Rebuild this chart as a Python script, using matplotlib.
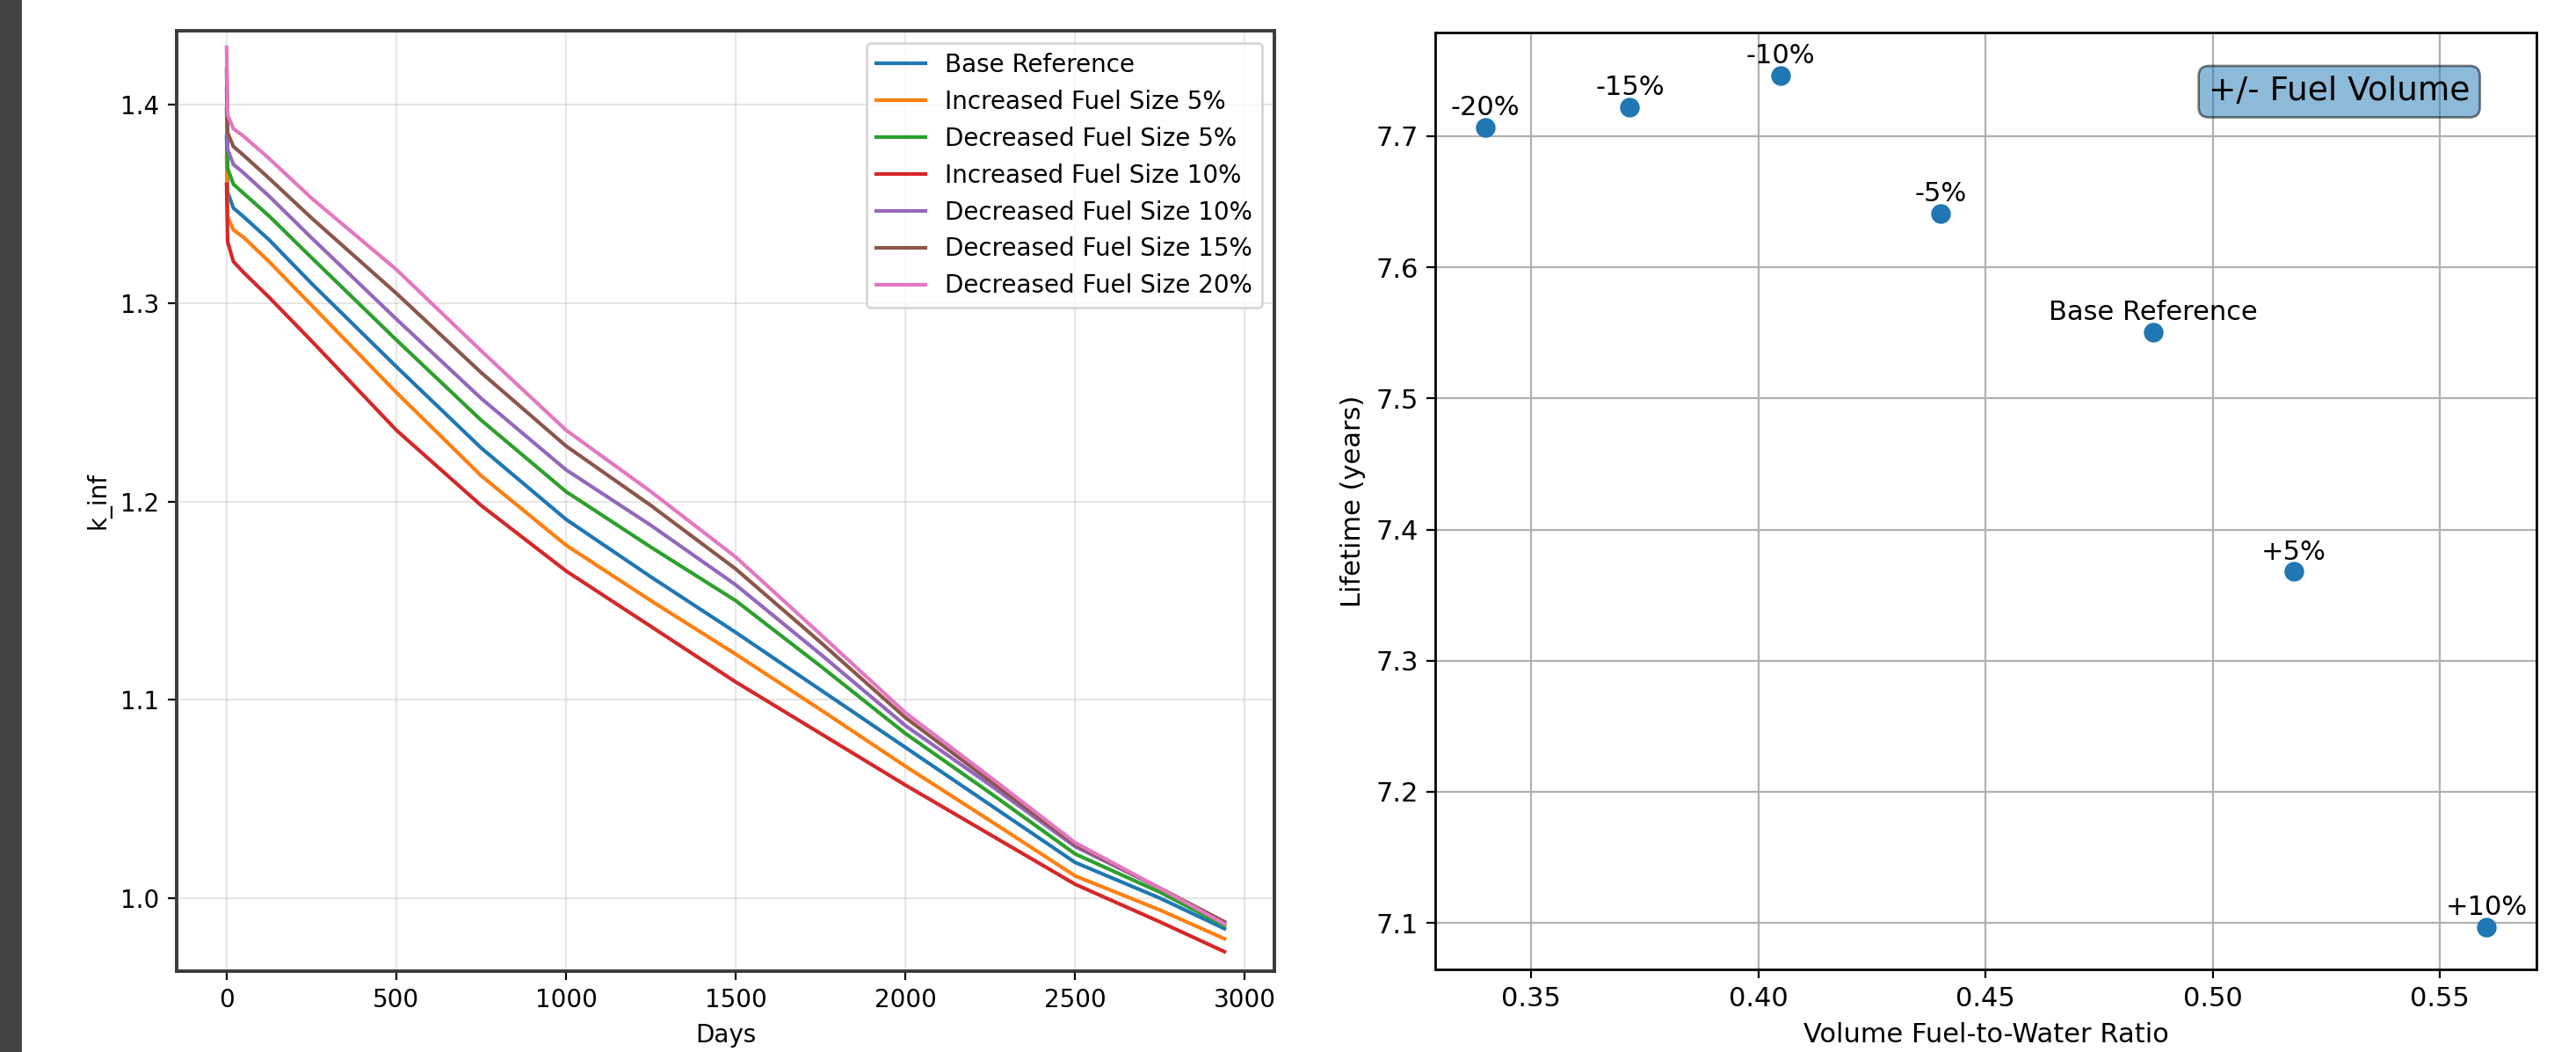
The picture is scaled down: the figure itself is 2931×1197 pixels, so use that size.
import numpy as np
import matplotlib
matplotlib.use("Agg")
import matplotlib.pyplot as plt
from matplotlib.patches import Rectangle

# k_inf vs days
days = [0, 3, 20, 50, 125, 250, 500, 750, 1000, 1250, 1500, 1750, 2000, 2250, 2500, 2750, 2940]

k_base = [1.384, 1.356, 1.348, 1.3436, 1.332, 1.310, 1.268, 1.227, 1.191, 1.162, 1.134, 1.105, 1.076, 1.047, 1.018, 1.0, 0.9846]
k_inc5 = [1.374, 1.3436, 1.337, 1.3332, 1.321, 1.299, 1.255, 1.213, 1.178, 1.150, 1.123, 1.095, 1.0665, 1.039, 1.0112, 0.994, 0.9795]
k_dec5 = [1.398, 1.368, 1.360, 1.3554, 1.344, 1.323, 1.2815, 1.241, 1.205, 1.177, 1.150, 1.117, 1.083, 1.053, 1.0223, 1.003, 0.9861]
k_inc10 = [1.360, 1.331, 1.321, 1.3155, 1.303, 1.281, 1.236, 1.198, 1.165, 1.137, 1.109, 1.083, 1.057, 1.032, 1.007, 0.988, 0.973]
k_dec10 = [1.408, 1.3775, 1.370, 1.3657, 1.354, 1.333, 1.292, 1.252, 1.216, 1.188, 1.158, 1.123, 1.087, 1.057, 1.026, 1.005, 0.988]
k_dec15 = [1.418, 1.386, 1.379, 1.3746, 1.363, 1.343, 1.305, 1.265, 1.228, 1.198, 1.166, 1.129, 1.091, 1.059, 1.027, 1.005, 0.988]
k_dec20 = [1.429, 1.395, 1.388, 1.3842, 1.373, 1.353, 1.317, 1.276, 1.236, 1.205, 1.172, 1.133, 1.0935, 1.061, 1.028, 1.005, 0.987]

labels = ['Base Reference', 'Increased Fuel Size 5%', 'Decreased Fuel Size 5%',
          'Increased Fuel Size 10%', 'Decreased Fuel Size 10%',
          'Decreased Fuel Size 15%', 'Decreased Fuel Size 20%']

# lifetime vs fuel-to-water ratio
ratio = [0.3399, 0.3717, 0.4048, 0.4401, 0.4869, 0.5178, 0.5602]
lifetime = [7.7066, 7.7220, 7.7465, 7.6412, 7.5503, 7.3679, 7.0970]
point_labels = ['-20%', '-15%', '-10%', '-5%', 'Base Reference', '+5%', '+10%']

fig = plt.figure(figsize=(14.655, 5.985), dpi=200)
fig.patches.append(Rectangle((0, 0), 23 / 2931, 1, transform=fig.transFigure,
                             color='#434343', zorder=0))

# left plot
ax1 = fig.add_axes([0.0686, 0.0769, 0.4261, 0.8939])
for k, lab in zip([k_base, k_inc5, k_dec5, k_inc10, k_dec10, k_dec15, k_dec20], labels):
    ax1.plot(days, k, label=lab, lw=1.5)
ax1.set_ylim(0.9632, 1.4374)
ax1.set_xticks([0, 500, 1000, 1500, 2000, 2500, 3000])
ax1.set_yticks([1.0, 1.1, 1.2, 1.3, 1.4])
ax1.set_xlabel('Days')
ax1.set_ylabel('k_inf')
ax1.grid(True, alpha=0.3)
ax1.legend(loc='upper right')
for s in ax1.spines.values():
    s.set_color('#3a3a3a')
    s.set_linewidth(1.4)

# right plot
ax2 = fig.add_axes([0.5572, 0.0785, 0.4274, 0.8905])
ax2.scatter(ratio, lifetime, s=50, zorder=3)
for x, y, t in zip(ratio, lifetime, point_labels):
    ax2.annotate(t, (x, y), textcoords='offset points', xytext=(0, 5),
                 ha='center', fontsize=11)
ax2.set_xlabel('Volume Fuel-to-Water Ratio', fontsize=11)
ax2.set_ylabel('Lifetime (years)', fontsize=11)
ax2.tick_params(labelsize=11)
ax2.grid(True)
ax2.text(0.821, 0.937, '+/- Fuel Volume', transform=ax2.transAxes, fontsize=13.5,
         ha='center', va='center',
         bbox=dict(boxstyle='round', facecolor='C0', alpha=0.5))
for s in ax2.spines.values():
    s.set_linewidth(1.0)

fig.savefig('out.png', dpi=200)
